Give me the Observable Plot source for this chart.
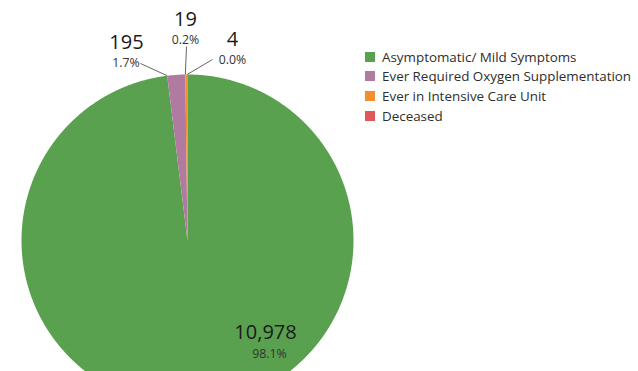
<!DOCTYPE html>
<html><head><meta charset="utf-8">
<script src="https://cdn.jsdelivr.net/npm/d3@7"></script>
<script src="https://cdn.jsdelivr.net/npm/@observablehq/plot@0.6"></script>
<style>
body{margin:0;background:#fff;}
#wrap{position:relative;width:638px;height:371px;overflow:hidden;font-family:"Open Sans",sans-serif;background:#fff}
#legend{position:absolute;left:365px;top:47px;}
.item{display:flex;align-items:center;height:19.6px;font-size:13.4px;color:#2e2e2e;white-space:nowrap}
.sw{width:10px;height:10px;margin-right:7px;flex:none}
</style></head>
<body><div id="wrap"><div id="chart"></div><div id="legend"></div></div>
<script>
// ---- data ----
const categories = ["Asymptomatic/ Mild Symptoms","Ever Required Oxygen Supplementation","Ever in Intensive Care Unit","Deceased"];
const counts = [10978, 195, 19, 4];
const colors = ["#59a14f","#b07aa1","#f28e2b","#e15759"];

// ---- layout (pixel positions of labels, not data) ----
const cx = 187, cy = 240, R = 166;
const labelLayout = [
  {num:[265,332], pct:[269,354], line:null},
  {num:[126,42.5], pct:[125.5,62.5], line:[140,63]},
  {num:[185,19], pct:[185,39.5], line:[186,46]},
  {num:[232,39.5], pct:[232,59.5], line:[212,59]}
];
const ux = px => (px - cx) / R, uy = py => (cy - py) / R;

const total = d3.sum(counts);
const arcs = d3.pie().sort(null).value(d => d)(counts);
const fmtN = d3.format(",");
const pct = v => (Math.round(v / total * 1000) / 10).toFixed(1) + "%";

// slice polygons from pie angles (clockwise from 12 o'clock)
const pts = [];
arcs.forEach((a, i) => {
  const cat = categories[i];
  pts.push({cat, x: 0, y: 0});
  const n = Math.max(2, Math.ceil((a.endAngle - a.startAngle) / 0.005));
  for (let k = 0; k <= n; k++) {
    const t = a.startAngle + (a.endAngle - a.startAngle) * k / n;
    pts.push({cat, x: Math.sin(t), y: Math.cos(t)});
  }
  pts.push({cat, x: 0, y: 0});
});

const labels = arcs.map((a, i) => ({
  cat: categories[i], n: fmtN(counts[i]), p: pct(counts[i]),
  nx: ux(labelLayout[i].num[0]), ny: uy(labelLayout[i].num[1]),
  px: ux(labelLayout[i].pct[0]), py: uy(labelLayout[i].pct[1]),
  line: labelLayout[i].line,
  ex: Math.sin(a.startAngle), ey: Math.cos(a.startAngle)
}));
const links = labels.filter(d => d.line).map(d => ({
  x1: ux(d.line[0]), y1: uy(d.line[1]), x2: d.ex, y2: d.ey
}));

const chart = Plot.plot({
  width: 638, height: 371,
  style: {fontFamily: '"Open Sans", sans-serif', background: "white"},
  x: {domain: [-1, 1], range: [cx - R, cx + R], axis: null},
  y: {domain: [-1, 1], range: [cy + R, cy - R], axis: null},
  color: {domain: categories, range: colors},
  marks: [
    Plot.line(pts, {x: "x", y: "y", z: "cat", fill: "cat", stroke: "none"}),
    Plot.link(links, {x1: "x1", y1: "y1", x2: "x2", y2: "y2", stroke: "#666", strokeWidth: 1}),
    Plot.text(labels, {x: "nx", y: "ny", text: "n", fontSize: 20, fill: "#1a1a1a"}),
    Plot.text(labels, {x: "px", y: "py", text: "p", fontSize: 12.3, fill: "#333"})
  ]
});
document.getElementById("chart").appendChild(chart);

const lg = document.getElementById("legend");
categories.forEach((c, i) => {
  const it = document.createElement("div");
  it.className = "item";
  it.innerHTML = `<span class="sw" style="background:${colors[i]}"></span><span>${c}</span>`;
  lg.appendChild(it);
});
</script>
</body></html>
